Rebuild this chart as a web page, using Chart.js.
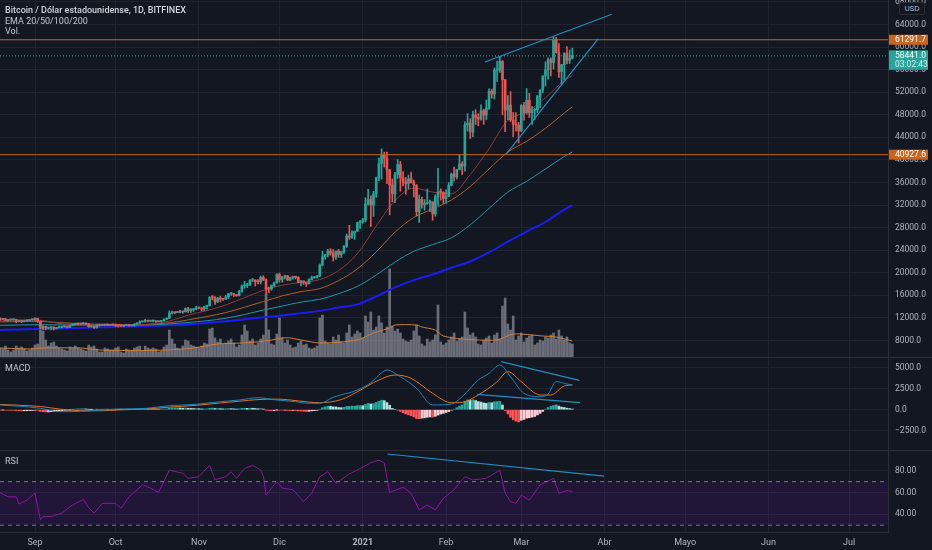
<!DOCTYPE html>
<html>
<head>
<meta charset="utf-8">
<script src="https://cdn.jsdelivr.net/npm/chart.js@4.4.1/dist/chart.umd.min.js"></script>
<style>
html, body { margin: 0; padding: 0; background: #131722; }
#wrap { position: relative; width: 932px; height: 550px; overflow: hidden; background: #131722; font-family: Roboto, "Noto Sans", sans-serif; }
canvas { position: absolute; left: 0; }
.sep { position: absolute; left: 0; width: 932px; height: 1px; background: #2a2e39; }
.lbl { position: absolute; left: 5px; font-size: 9px; line-height: 10.7px; color: #c3c6ce; white-space: nowrap; }
#usd { position: absolute; left: 899px; top: 2px; width: 24px; height: 11px; line-height: 11px; font-size: 8px; text-align: center; color: #b2b5be; background: #131722; border: 1px solid #2a2e39; border-radius: 2px; }
</style>
</head>
<body>
<div id="wrap">
  <canvas id="cPrice" width="932" height="357" style="top:0;width:932px;height:357px"></canvas>
  <canvas id="cMacd" width="932" height="92" style="top:358px;width:932px;height:92px"></canvas>
  <canvas id="cRsi" width="932" height="99" style="top:451px;width:932px;height:99px"></canvas>
  <div class="sep" style="top:357px"></div>
  <div class="sep" style="top:450px"></div>
  <div class="lbl" style="top:5px"><span style="color:#d1d4dc;font-weight:500">Bitcoin / Dólar estadounidense, 1D, BITFINEX</span><br>EMA 20/50/100/200<br>Vol.</div>
  <div class="lbl" style="top:363px">MACD</div>
  <div class="lbl" style="top:456px">RSI</div>
  <div id="usd">USD</div>
</div>
<script>
// days are counted from 1 Sep 2020; first candle is 19 Aug 2020
const START = -13;

const closes = [
  11750,11865,11520,11680,11660,11770,11360,11480,11330,11540,11510,11710,11680,
  11930,11400,10180,10490,10180,10260,10380,10130,10250,10370,10410,10450,10340,10690,10800,10960,10950,10940,11090,10930,10430,10540,10250,10750,10700,10740,10780,10700,10850,10790,
  10620,10580,10560,10680,10800,10600,10680,10930,11070,11310,11390,11560,11440,11450,11510,11340,11380,11510,11760,11930,12830,12990,12940,13130,13040,13080,13660,13290,13470,13570,13810,
  13770,13560,14030,14160,15600,15590,14850,15490,15340,15310,15710,16290,16330,16080,15970,16730,17660,17810,17830,18690,18710,18420,18380,19170,18750,17160,17150,17730,18190,19710,
  18800,19240,19460,18710,19160,19370,19180,18330,18560,18260,18050,18810,19150,19260,19450,21390,22850,23150,23870,23490,22760,23840,23250,23740,24720,26500,26290,27090,27370,28850,29010,
  29380,32200,33010,32000,33980,36830,39380,40810,40260,38250,35550,34010,37400,39160,36840,36070,35830,36640,36080,35530,30840,33010,32090,32280,32380,32580,30440,33480,34330,34280,33120,
  33540,35520,37480,36980,38300,39270,38910,46210,46490,44930,47980,47510,47240,48710,47950,49210,52160,51690,55900,55930,57500,54220,48830,49710,47100,46350,46200,45150,
  49640,48390,50550,48380,48770,48890,51220,52390,54890,55970,57780,57240,61200,59010,55640,56880,58910,57660,58040,58441
];
const highs = [
  12020,11900,11890,11690,11710,11830,11780,11540,11590,11560,11590,11720,11780,
  12080,11960,11470,10630,10560,10360,10410,10440,10370,10530,10420,10590,10560,10790,10950,11100,11050,11040,11180,11090,10990,10580,10550,10790,10780,10780,10800,10960,10870,10860,
  10940,10670,10600,10690,10810,10810,10700,10960,11110,11490,11440,11730,11560,11560,11630,11540,11420,11530,11830,12030,13230,13200,13030,13170,13350,13250,13790,13880,13660,13650,14100,
  13900,13830,14070,14260,15780,15980,15770,15660,15860,15480,15970,16350,16490,16330,16160,16870,17860,18480,18150,18800,18980,18750,18780,19420,19490,18920,17470,17860,18360,19860,
  19950,19330,19600,19540,19180,19430,19420,19300,18640,18570,18280,18950,19420,19350,19570,21560,23800,23290,24170,24300,24120,23850,24150,23800,24810,26870,28420,27440,27400,28990,29300,
  29640,33300,34800,33630,34430,36950,40380,41950,41380,41380,38290,36650,37800,40050,39740,37930,36880,37300,37860,36420,35620,33790,33430,32970,34850,32900,32580,33810,38500,34880,34340,
  34700,35980,37690,38740,38350,40920,39710,46750,48200,47300,48670,48900,48200,49750,49000,50600,52600,52560,56300,57500,58350,57580,54250,51400,52100,48400,48400,46650,
  49800,50200,52650,51800,49450,49200,51450,52400,54900,57400,58100,58100,61790,61700,60600,56950,58990,60100,59500,59800
];
const lows = [
  11560,11680,11480,11370,11590,11620,11130,11300,11140,11290,11450,11480,11580,
  11580,11170,10010,9900,9880,10030,9890,9860,10020,10210,10210,10340,10230,10260,10640,10680,10770,10820,10900,10790,10350,10370,10150,10200,10560,10650,10630,10670,10660,10690,
  10460,10380,10500,10510,10620,10560,10580,10530,10830,11060,11270,11240,11300,11300,11280,11220,11300,11360,11410,11700,11900,12700,12730,12910,12900,12800,13060,12970,12960,13140,13440,
  13620,13230,13310,13560,14110,15190,14390,14720,14830,15090,15290,15440,15970,15800,15800,15870,16570,17250,17360,17770,18450,17660,18030,18020,18600,16250,16450,16880,17520,18180,
  18330,18350,18930,18620,18590,18880,18920,18210,17650,17920,17580,18020,18730,19000,19060,19300,21240,22360,22830,23090,22070,22360,22720,22700,23450,24500,25900,26100,25920,27330,27880,
  28760,29000,32000,28200,29990,33380,36310,36580,38720,35800,30300,32590,32440,36730,34450,35380,33920,34900,35900,33430,30090,28900,31460,31100,32140,30850,29300,30010,31950,32870,32300,
  32330,33460,35400,36220,36620,38250,37400,37990,45100,43800,44100,46300,46050,47050,46300,47100,48940,50930,50800,53900,55500,48000,45000,47100,46800,44100,45100,43000,
  45000,47050,48100,47500,46300,47100,48400,49300,51900,53100,54300,54900,56100,58950,54600,53300,54200,57000,57100,57900
];
const firstOpen = 11790;

// volume (relative units)
const volumes = [
  9,8,11,7,5,7,11,9,10,8,6,7,9,
  12,13,27,26,17,11,14,15,11,9,8,7,6,10,9,11,9,8,7,6,12,10,11,8,5,5,9,8,7,7,
  9,10,5,4,8,7,6,9,10,11,6,11,9,8,9,8,5,6,10,12,27,18,13,9,8,11,17,16,12,11,10,
  9,11,14,13,28,29,19,15,18,13,14,16,18,14,10,12,22,32,26,16,18,12,14,18,22,63,27,13,12,23,
  39,19,14,17,12,9,10,14,16,12,13,9,8,9,11,39,42,16,14,13,20,17,22,15,14,24,32,20,23,26,24,
  19,41,35,45,27,30,41,34,24,30,88,31,26,28,24,18,16,15,17,26,32,21,13,11,18,15,17,22,52,15,12,
  14,17,20,24,16,18,20,45,29,22,24,20,13,12,17,19,21,14,22,24,18,51,59,33,27,41,17,21,
  24,15,19,21,22,12,14,17,16,20,19,22,24,18,27,21,17,20,14,13
];
const volMaDays = [-13,-1,3,17,24,39,49,59,68,77,86,92,95,106,120,126,132,134,142,144,149,152,159,172,178,189,194,200];
const volMaVals = [9,8,9,9,7,6.5,7,9,13,14,16,19,19,14,17,24,29,32,32,30,27,21,18,17,23,21,20,16];

// EMA 20/50/100/200
const emaDays = [-13,-6,1,8,15,22,29,36,43,50,57,64,71,78,85,92,99,106,113,120,127,134,141,148,155,162,169,176,183,190,197,200];
const ema20  = [11600,11650,11620,11100,10760,10600,10680,10700,10920,11450,12500,13300,14300,15600,16900,17800,18300,18800,20400,23400,28300,32800,35000,34300,34000,37400,42000,47000,48500,51000,54100,54900];
const ema50  = [11300,11350,11400,11200,11020,10900,10850,10800,10880,11150,11650,12250,12950,13900,14900,15900,16650,17200,18600,20700,23700,27200,29800,31300,32900,35300,38400,41400,43300,45600,48300,49400];
const ema100 = [10700,10750,10800,10770,10750,10730,10720,10710,10780,10930,11200,11500,11950,12600,13400,14100,14800,15300,16300,17600,19600,21900,23800,25000,26200,28500,31400,34300,36200,38400,40600,41400];
const ema200 = [9860,9950,10050,10120,10200,10300,10400,10500,10600,10700,10850,11100,11400,11750,12100,12450,12850,13250,13850,14400,15800,17400,18700,19700,20900,22000,23600,25500,27300,29000,31200,32000];

// horizontal levels, current price and drawn trend lines
const levels = [61291.7, 40927.6];
const countdown = '03:02:43';
const trendTopDays = [167.5, 214.7], trendTopPrice = [57354, 65806];
const trendLowDays = [175.6, 209.6], trendLowPrice = [41174, 61429];

// MACD
const macdHist = [
  -40,-30,-60,-70,-80,-80,-110,-120,-140,-130,-120,-100,-90,
  -60,-80,-190,-240,-270,-260,-230,-210,-170,-130,-100,-70,-50,-10,30,70,90,100,110,90,40,20,-10,20,30,40,50,40,50,50,
  30,20,10,20,30,20,20,40,60,90,110,130,120,110,100,80,70,70,80,90,170,210,220,220,200,180,200,170,150,140,140,
  120,90,90,90,170,190,140,140,120,100,100,130,120,100,80,100,150,170,160,180,170,140,110,120,80,-20,-100,-120,-110,-20,
  -60,-60,-50,-90,-90,-80,-90,-140,-160,-190,-210,-180,-140,-110,-70,60,230,340,420,410,330,320,260,240,280,380,390,420,420,480,480,
  470,640,740,680,720,860,1000,1120,1070,850,530,150,0,-60,-200,-350,-500,-600,-720,-860,-1050,-1060,-1000,-960,-900,-850,-880,-780,-640,-520,-430,
  -330,-220,-60,60,240,430,560,1000,1150,1100,1180,1080,960,900,800,750,850,820,950,970,1000,560,-100,-500,-900,-1200,-1350,-1450,
  -1250,-1150,-1000,-950,-880,-800,-620,-430,-200,60,250,380,500,580,420,300,260,180,130,80
];
const macdDays = [-13,-6,2,9,17,24,32,41,50,60,69,76,83,90,97,102,106,111,120,125,128,131,136,142,148,155,159,165,169,173,177,182,188,191,194,198,200];
const macdLine = [557,420,166,-237,-200,-60,83,150,474,640,950,1150,1420,1150,950,760,760,1470,2330,3200,4100,4700,3900,2530,560,670,1540,3520,4310,5300,3900,1940,1540,1860,3320,3045,2930];
const signalDays = [-13,-6,2,9,17,24,32,41,50,60,69,76,83,90,95,102,106,114,120,128,134,140,148,155,158,166,172,176,181,188,192,197,200];
const signalLine = [620,530,380,80,-120,-130,-20,90,300,520,800,1000,1200,1250,1150,900,830,1200,2130,3520,4110,3720,1940,830,830,1940,3320,4500,3320,1740,1740,2810,2930];
const macdTopDays = [173.5, 202.6], macdTopVals = [5690, 3480];
const macdLowDays = [164.6, 202.9], macdLowVals = [1825, 830];

// RSI
const rsiDays = [-13,-10,-7,-6,-3,0,2,3,6,10,13,18,20,22,25,30,32,35,40,43,46,50,55,57,61,65,67,71,73,75,78,81,84,85,86,90,92,96,100,103,106,109,112,117,121,125,128,130,132,137,140,143,146,149,152,156,160,163,168,172,173,175,177,179,181,184,188,193,195,198,200];
const rsiVals = [59.8,56,56,49.4,53,59.3,35,37.8,38,41,47,53.8,46,41,50,50,45.5,56,67,64,60,80.6,77.6,73,74.5,85,71.7,74.5,79,73,82,85,80.6,75,57.7,70,64,62.6,51.6,59.3,74.5,79,68.4,77,82,87.3,89.8,87,60,64.8,59.3,44,48.5,44,54.7,62.6,74.5,71.5,73,79,80.6,59.3,51.6,50,57.7,53,67,73,59.3,61.8,61];
const rsiTrendDays = [131.2, 211.8], rsiTrendVals = [95.3, 75.1];

// axis ticks
const monthDays = [0,30,61,91,122,153,181,212,242,273,303];
const monthLabels = ['Sep','Oct','Nov','Dic','2021','Feb','Mar','Abr','Mayo','Jun','Jul'];
const priceTicks = [8000,12000,16000,20000,24000,28000,32000,36000,40000,44000,48000,52000,56000,60000,64000,68000];
const macdTicks = [-2500,0,2500,5000];
const rsiTicks = [40,60,80];

// ---- styling ----
const FONT = 'Roboto, "Noto Sans", sans-serif';
const TXT = '#b2b5be', GRID = '#1f2330', BORDER = '#2a2e39';
const UP = '#26a69a', DOWN = '#ef5350', LEVEL = '#c8661f', TREND = '#1f8fbf';
const X_MIN = -13.03, X_MAX = 317.5;

Chart.defaults.font.family = FONT;
Chart.defaults.animation = false;

const opens = closes.map((c, i) => i === 0 ? firstOpen : closes[i - 1]);
const days = closes.map((c, i) => START + i);
const series = (xs, ys) => xs.map((x, i) => ({ x: x, y: ys[i] }));
const flat = v => [{ x: X_MIN, y: v }, { x: X_MAX, y: v }];
const line = (data, color, width, extra) => Object.assign({
  type: 'line', data: data, borderColor: color, borderWidth: width,
  pointRadius: 0, fill: false
}, extra || {});

function timeAxis(show) {
  return {
    type: 'linear', min: X_MIN, max: X_MAX, offset: false,
    afterBuildTicks: s => { s.ticks = monthDays.map(v => ({ value: v })); },
    grid: { color: GRID, drawTicks: false, offset: false },
    border: { display: show, color: BORDER },
    ticks: {
      display: show, autoSkip: false, maxRotation: 0, padding: 5, color: TXT,
      font: c => ({ family: FONT, size: 9, weight: monthLabels[c.index] === '2021' ? 'bold' : 'normal' }),
      callback: (v, i) => monthLabels[i]
    },
    afterFit: s => { s.height = show ? 18 : 0; s.paddingLeft = 0; s.paddingRight = 0; }
  };
}

function valueAxis(min, max, tickList, fmt) {
  return {
    type: 'linear', position: 'right', min: min, max: max,
    afterBuildTicks: s => { s.ticks = tickList.map(v => ({ value: v })); },
    grid: { color: GRID, drawTicks: false },
    border: { color: BORDER },
    ticks: { autoSkip: false, padding: 7, color: TXT, font: { size: 8.5 }, callback: fmt },
    // fixed axis width, and no extra room for labels at the ends
    afterFit: s => { s.width = 44; s.paddingTop = 0; s.paddingBottom = 0; }
  };
}

const baseOptions = {
  responsive: false,
  layout: { padding: 0, autoPadding: false },
  plugins: { legend: { display: false }, tooltip: { enabled: false } },
  datasets: { bar: { grouped: false } }
};

const candleColor = ctx => closes[ctx.dataIndex] >= opens[ctx.dataIndex] ? UP : DOWN;

// price tags on the axis
const tagPlugin = {
  id: 'tags',
  afterDraw(chart) {
    const { ctx, chartArea, scales } = chart;
    const x0 = chartArea.right + 1, w = 39;
    ctx.save();
    ctx.font = '8.5px ' + FONT;
    ctx.textBaseline = 'middle';
    levels.forEach(v => {
      const py = scales.y.getPixelForValue(v);
      ctx.fillStyle = LEVEL;
      ctx.fillRect(x0, py - 5, w, 10);
      ctx.fillStyle = '#ffffff';
      ctx.fillText(v.toFixed(1), x0 + 6, py + 0.5);
    });
    const last = closes[closes.length - 1];
    const py = scales.y.getPixelForValue(last);
    ctx.fillStyle = UP;
    ctx.fillRect(x0, py - 5.5, w, 19.5);
    ctx.fillStyle = '#ffffff';
    ctx.fillText(last.toFixed(1), x0 + 6, py + 0.5);
    ctx.fillStyle = '#d8f0ee';
    ctx.fillText(countdown, x0 + 6, py + 9.5);
    ctx.restore();
  }
};

new Chart(document.getElementById('cPrice'), {
  type: 'bar',
  data: {
    datasets: [
      { type: 'bar', yAxisID: 'yv', data: series(days, volumes), backgroundColor: 'rgba(140,143,153,0.72)', barThickness: 2, order: 12 },
      line(series(volMaDays, volMaVals), '#d0803a', 1, { yAxisID: 'yv', order: 11, tension: 0.25 }),
      line(series(emaDays, ema200), '#1c1cf5', 2, { order: 10, cubicInterpolationMode: 'monotone' }),
      line(series(emaDays, ema100), '#1f98a8', 1, { order: 9, cubicInterpolationMode: 'monotone' }),
      line(series(emaDays, ema50), '#b0602a', 1, { order: 8, cubicInterpolationMode: 'monotone' }),
      line(series(emaDays, ema20), '#8f3a3a', 1, { order: 7, cubicInterpolationMode: 'monotone' }),
      { type: 'bar', data: days.map((d, i) => ({ x: d, y: [lows[i], highs[i]] })), backgroundColor: candleColor, barThickness: 1, order: 6 },
      { type: 'bar', data: days.map((d, i) => ({ x: d, y: [opens[i], closes[i]] })), backgroundColor: candleColor, barThickness: 2, minBarLength: 1, order: 5 },
      line(flat(levels[0]), LEVEL, 1, { order: 4 }),
      line(flat(levels[1]), LEVEL, 1, { order: 4 }),
      line(flat(closes[closes.length - 1]), UP, 1, { order: 3, borderDash: [1, 2] }),
      line(series(trendTopDays, trendTopPrice), TREND, 1.2, { order: 1 }),
      line(series(trendLowDays, trendLowPrice), TREND, 1.2, { order: 1 })
    ]
  },
  options: Object.assign({}, baseOptions, {
    scales: {
      x: timeAxis(false),
      y: valueAxis(5076, 68340, priceTicks, v => v.toFixed(1)),
      yv: { type: 'linear', display: false, min: 0, max: 357 }
    }
  }),
  plugins: [tagPlugin]
});

const histColor = ctx => {
  const i = ctx.dataIndex, v = macdHist[i], p = i > 0 ? macdHist[i - 1] : v;
  if (v >= 0) return v >= p ? '#26a69a' : '#b2dfdb';
  return v <= p ? '#ff5252' : '#ffcdd2';
};

new Chart(document.getElementById('cMacd'), {
  type: 'bar',
  data: {
    datasets: [
      { type: 'bar', data: series(days, macdHist), backgroundColor: histColor, barThickness: 2, order: 5 },
      line(series(signalDays, signalLine), '#e0731f', 1, { order: 3, cubicInterpolationMode: 'monotone' }),
      line(series(macdDays, macdLine), '#1e84b8', 1, { order: 2, cubicInterpolationMode: 'monotone' }),
      line(series(macdTopDays, macdTopVals), TREND, 1.2, { order: 1 }),
      line(series(macdLowDays, macdLowVals), TREND, 1.2, { order: 1 })
    ]
  },
  options: Object.assign({}, baseOptions, {
    scales: {
      x: timeAxis(false),
      y: valueAxis(-4775, 6125, macdTicks, v => (v < 0 ? '\u2212' : '') + Math.abs(v).toFixed(1))
    }
  })
});

new Chart(document.getElementById('cRsi'), {
  type: 'line',
  data: {
    datasets: [
      line(flat(70), '#787b86', 1, { borderDash: [4, 4], fill: '+1', backgroundColor: 'rgba(153,21,255,0.1)' }),
      line(flat(30), '#787b86', 1, { borderDash: [4, 4] }),
      line(series(rsiDays, rsiVals), '#8e1599', 1),
      line(series(rsiTrendDays, rsiTrendVals), TREND, 1.2)
    ]
  },
  options: Object.assign({}, baseOptions, {
    scales: {
      x: timeAxis(true),
      y: valueAxis(23.76, 98.07, rsiTicks, v => v.toFixed(2))
    }
  })
});
</script>
</body>
</html>
